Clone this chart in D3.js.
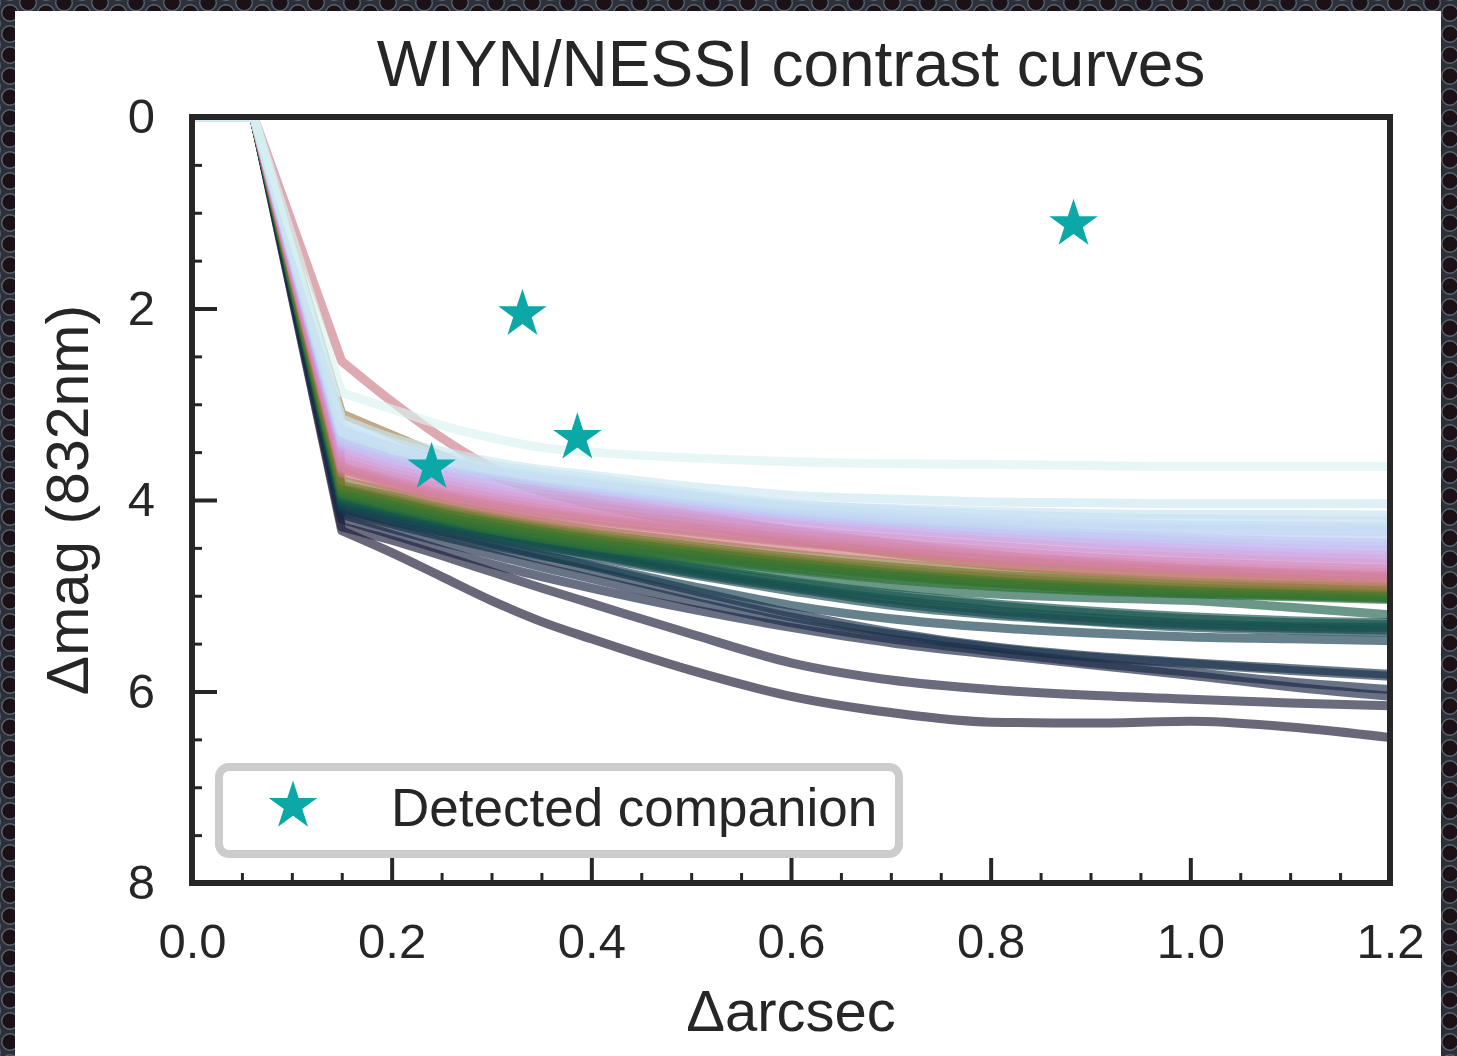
<!DOCTYPE html>
<html lang="en">
<head>
<meta charset="UTF-8">
<title>WIYN/NESSI contrast curves</title>
<script src="https://d3js.org/d3.v7.min.js"></script>
<style>
  body { margin: 0; background: #262a33; }
  svg { display: block; }
  text { font-family: "Liberation Sans", Arial, sans-serif; fill: #262626; }
</style>
</head>
<body>
<div id="chart"></div>
<script>
// separations (arcsec): inside the core the curves sit at 0 mag
const innerSep = [0.0, 0.062];
const curveSep = [0.15, 0.2, 0.25, 0.3, 0.35, 0.4, 0.5, 0.6, 0.7, 0.8, 0.9, 1.0, 1.1, 1.2];

// delta mag at each curveSep, one row per target
const curves = [
  [4.32, 4.55, 4.80, 5.05, 5.27, 5.45, 5.78, 6.05, 6.22, 6.32, 6.33, 6.31, 6.37, 6.48],
  [4.28, 4.42, 4.58, 4.75, 4.92, 5.08, 5.40, 5.70, 5.88, 5.98, 6.04, 6.08, 6.12, 6.15],
  [4.20, 4.36, 4.52, 4.67, 4.80, 4.92, 5.14, 5.33, 5.49, 5.61, 5.72, 5.83, 5.95, 6.05],
  [4.15, 4.30, 4.44, 4.57, 4.70, 4.82, 5.06, 5.28, 5.45, 5.58, 5.70, 5.80, 5.90, 5.98],
  [4.12, 4.25, 4.38, 4.50, 4.62, 4.74, 4.99, 5.22, 5.40, 5.54, 5.64, 5.71, 5.78, 5.84],
  [4.10, 4.22, 4.33, 4.45, 4.57, 4.69, 4.94, 5.18, 5.38, 5.53, 5.63, 5.70, 5.76, 5.82],
  [4.08, 4.22, 4.35, 4.47, 4.58, 4.68, 4.90, 5.10, 5.24, 5.33, 5.39, 5.43, 5.45, 5.47],
  [4.05, 4.17, 4.29, 4.40, 4.50, 4.59, 4.78, 4.95, 5.10, 5.20, 5.27, 5.33, 5.36, 5.38],
  [4.03, 4.15, 4.27, 4.38, 4.48, 4.57, 4.76, 4.92, 5.07, 5.18, 5.26, 5.31, 5.34, 5.36],
  [4.02, 4.14, 4.26, 4.37, 4.47, 4.56, 4.74, 4.90, 5.04, 5.15, 5.23, 5.29, 5.32, 5.33],
  [4.00, 4.12, 4.24, 4.35, 4.44, 4.53, 4.71, 4.87, 5.00, 5.10, 5.18, 5.24, 5.28, 5.30],
  [4.00, 4.12, 4.23, 4.34, 4.44, 4.52, 4.69, 4.85, 4.98, 5.08, 5.16, 5.22, 5.26, 5.28],
  [3.98, 4.10, 4.22, 4.32, 4.41, 4.49, 4.64, 4.78, 4.90, 4.98, 5.02, 5.05, 5.12, 5.20],
  [3.93, 4.06, 4.18, 4.29, 4.38, 4.46, 4.59, 4.71, 4.81, 4.89, 4.94, 4.98, 5.01, 5.04],
  [3.95, 4.08, 4.20, 4.31, 4.40, 4.48, 4.61, 4.73, 4.83, 4.90, 4.95, 4.98, 5.00, 5.03],
  [3.91, 4.03, 4.15, 4.26, 4.35, 4.43, 4.56, 4.68, 4.78, 4.86, 4.92, 4.96, 4.99, 5.02],
  [3.92, 4.05, 4.17, 4.27, 4.36, 4.44, 4.57, 4.69, 4.79, 4.87, 4.92, 4.96, 4.99, 5.01],
  [3.89, 4.01, 4.14, 4.24, 4.33, 4.41, 4.54, 4.66, 4.77, 4.85, 4.91, 4.95, 4.98, 5.00],
  [3.90, 4.01, 4.13, 4.23, 4.32, 4.40, 4.53, 4.65, 4.76, 4.84, 4.90, 4.94, 4.97, 4.99],
  [3.88, 3.99, 4.11, 4.21, 4.30, 4.38, 4.51, 4.63, 4.73, 4.81, 4.87, 4.92, 4.95, 4.97],
  [3.85, 3.96, 4.08, 4.18, 4.27, 4.35, 4.48, 4.60, 4.70, 4.78, 4.84, 4.89, 4.92, 4.95],
  [3.80, 3.92, 4.04, 4.14, 4.23, 4.31, 4.44, 4.56, 4.66, 4.75, 4.81, 4.86, 4.89, 4.92],
  [3.10, 3.32, 3.54, 3.74, 3.91, 4.04, 4.24, 4.41, 4.55, 4.67, 4.75, 4.81, 4.86, 4.90],
  [3.72, 3.86, 3.99, 4.10, 4.19, 4.26, 4.38, 4.49, 4.58, 4.67, 4.73, 4.78, 4.82, 4.85],
  [2.55, 2.97, 3.35, 3.66, 3.85, 3.97, 4.15, 4.32, 4.45, 4.57, 4.65, 4.72, 4.77, 4.82],
  [3.68, 3.83, 3.96, 4.06, 4.14, 4.21, 4.33, 4.44, 4.53, 4.62, 4.68, 4.73, 4.77, 4.80],
  [3.66, 3.81, 3.94, 4.04, 4.12, 4.19, 4.31, 4.43, 4.52, 4.61, 4.67, 4.72, 4.76, 4.79],
  [3.65, 3.79, 3.92, 4.01, 4.09, 4.16, 4.28, 4.40, 4.49, 4.58, 4.64, 4.69, 4.73, 4.76],
  [3.60, 3.75, 3.87, 3.97, 4.05, 4.12, 4.24, 4.36, 4.45, 4.53, 4.60, 4.65, 4.69, 4.72],
  [3.55, 3.71, 3.83, 3.93, 4.01, 4.07, 4.19, 4.31, 4.40, 4.48, 4.55, 4.60, 4.64, 4.67],
  [3.50, 3.67, 3.79, 3.89, 3.97, 4.03, 4.14, 4.26, 4.35, 4.43, 4.50, 4.55, 4.59, 4.62],
  [3.45, 3.62, 3.74, 3.84, 3.92, 3.98, 4.09, 4.21, 4.30, 4.38, 4.45, 4.51, 4.55, 4.58],
  [3.42, 3.59, 3.71, 3.81, 3.88, 3.94, 4.07, 4.18, 4.27, 4.35, 4.42, 4.47, 4.51, 4.53],
  [3.40, 3.55, 3.67, 3.76, 3.84, 3.90, 4.03, 4.15, 4.24, 4.32, 4.38, 4.43, 4.47, 4.49],
  [3.38, 3.53, 3.64, 3.73, 3.81, 3.87, 4.01, 4.13, 4.21, 4.29, 4.35, 4.40, 4.43, 4.45],
  [3.35, 3.51, 3.63, 3.73, 3.81, 3.88, 4.01, 4.14, 4.22, 4.30, 4.35, 4.38, 4.39, 4.40],
  [3.30, 3.47, 3.60, 3.70, 3.78, 3.85, 3.99, 4.11, 4.19, 4.25, 4.29, 4.31, 4.32, 4.33],
  [3.28, 3.45, 3.57, 3.68, 3.76, 3.83, 3.97, 4.09, 4.17, 4.23, 4.27, 4.29, 4.30, 4.31],
  [3.25, 3.43, 3.57, 3.67, 3.75, 3.81, 3.95, 4.07, 4.14, 4.20, 4.24, 4.26, 4.27, 4.28],
  [3.20, 3.39, 3.53, 3.63, 3.71, 3.77, 3.92, 4.04, 4.10, 4.15, 4.18, 4.20, 4.21, 4.22],
  [3.30, 3.47, 3.59, 3.68, 3.76, 3.82, 3.95, 4.05, 4.09, 4.12, 4.14, 4.15, 4.15, 4.16],
  [3.15, 3.35, 3.49, 3.60, 3.68, 3.74, 3.86, 3.95, 3.99, 4.02, 4.03, 4.04, 4.04, 4.04],
  [2.88, 3.05, 3.22, 3.35, 3.45, 3.50, 3.56, 3.60, 3.62, 3.63, 3.64, 3.65, 3.65, 3.65]
];

// detected companions
const companionSep = [0.24, 0.331, 0.386, 0.883];
const companionMag = [3.66, 2.06, 3.35, 1.12];

const xTicks = [0, 0.2, 0.4, 0.6, 0.8, 1.0, 1.2];
const yTicks = [0, 2, 4, 6, 8];

const width = 1457, height = 1056;
const plot = { left: 192, right: 1390, top: 117, bottom: 883 };
const ink = '#262626';
const starColor = '#0ca8a8';

const svg = d3.select('#chart').append('svg')
    .attr('width', width)
    .attr('height', height);

// perforated dark frame around the white figure
const defs = svg.append('defs');
const pat = defs.append('pattern')
    .attr('id', 'holes')
    .attr('patternUnits', 'userSpaceOnUse')
    .attr('width', 36)
    .attr('height', 21)
    .attr('patternTransform', 'translate(10,13)');
pat.append('rect').attr('width', 36).attr('height', 21).attr('fill', '#2b3039');
[[0, 0], [36, 0], [0, 21], [36, 21], [18, 10.5]].forEach(p => {
    pat.append('circle')
        .attr('cx', p[0]).attr('cy', p[1]).attr('r', 8.3)
        .attr('fill', '#1b1116')
        .attr('stroke', '#5a6370')
        .attr('stroke-width', 1.4);
});
svg.append('rect').attr('width', width).attr('height', height).attr('fill', 'url(#holes)');
svg.append('rect')
    .attr('x', 15).attr('y', 11)
    .attr('width', 1426).attr('height', height)
    .attr('fill', '#ffffff');

defs.append('clipPath').attr('id', 'plotclip')
    .append('rect')
    .attr('x', plot.left).attr('y', plot.top)
    .attr('width', plot.right - plot.left)
    .attr('height', plot.bottom - plot.top);

// scales
const x = d3.scaleLinear().domain([0, 1.2]).range([plot.left, plot.right]);
const y = d3.scaleLinear().domain([0, 8]).range([plot.top, plot.bottom]);

// cubehelix colour keyed to the depth reached at 1.2"
const tOfDepth = d3.scaleLinear()
    .domain([6.48, 6.15, 6.0, 5.84, 5.47, 5.35, 5.2, 5.03, 4.97, 4.92, 4.85, 4.78, 4.65, 4.5, 4.3, 4.04, 3.65])
    .range([0.10, 0.12, 0.15, 0.17, 0.20, 0.23, 0.28, 0.34, 0.38, 0.47, 0.57, 0.61, 0.68, 0.77, 0.84, 0.88, 0.92])
    .clamp(true);

const last = c => c[c.length - 1];
const order = d3.range(curves.length).sort((a, b) => d3.descending(last(curves[a]), last(curves[b])));

const lineLin = d3.line().x(d => x(d[0])).y(d => y(d[1]));
const lineSmooth = d3.line().x(d => x(d[0])).y(d => y(d[1])).curve(d3.curveMonotoneX);

function curvePath(vals) {
    const head = innerSep.map(s => [s, 0]).concat([[curveSep[0], vals[0]]]);
    const tail = curveSep.map((s, i) => [s, vals[i]]);
    return lineLin(head) + lineSmooth(tail).replace(/^M[^A-Za-z]*/, '');
}

const g = svg.append('g').attr('clip-path', 'url(#plotclip)');
g.selectAll('path.curve')
    .data(order)
    .enter()
    .append('path')
    .attr('class', 'curve')
    .attr('d', ci => curvePath(curves[ci]))
    .attr('fill', 'none')
    .attr('stroke', ci => d3.interpolateCubehelixDefault(tOfDepth(last(curves[ci]))))
    .attr('stroke-opacity', 0.65)
    .attr('stroke-width', 9)
    .attr('stroke-linejoin', 'round');

// axes: ticks point inward, only left and bottom
const xAxis = d3.axisBottom(x).tickValues(xTicks)
    .tickFormat(d3.format('.1f'))
    .tickSizeInner(-25).tickSizeOuter(0).tickPadding(40);
const xMinor = d3.axisBottom(x)
    .tickValues(d3.range(0.05, 1.2, 0.05).filter(v => Math.abs(v / 0.2 - Math.round(v / 0.2)) > 0.01))
    .tickFormat('').tickSizeInner(-10).tickSizeOuter(0);
const yAxis = d3.axisLeft(y).tickValues(yTicks)
    .tickFormat(d3.format('d'))
    .tickSizeInner(-25).tickSizeOuter(0).tickPadding(37);
const yMinor = d3.axisLeft(y)
    .tickValues(d3.range(0.5, 8, 0.5).filter(v => v % 2 !== 0))
    .tickFormat('').tickSizeInner(-10).tickSizeOuter(0);

function styleAxis(sel, w) {
    sel.select('.domain').remove();
    sel.selectAll('line').attr('stroke', ink).attr('stroke-width', w);
    sel.selectAll('text').attr('font-size', 49).attr('fill', ink)
        .style('font-family', '"Liberation Sans", Arial, sans-serif');
}

svg.append('g').attr('transform', `translate(0,${plot.bottom})`).call(xAxis).call(styleAxis, 4);
svg.append('g').attr('transform', `translate(0,${plot.bottom})`).call(xMinor).call(styleAxis, 3);
svg.append('g').attr('transform', `translate(${plot.left},0)`).call(yAxis).call(styleAxis, 4);
svg.append('g').attr('transform', `translate(${plot.left},0)`).call(yMinor).call(styleAxis, 3);

// frame
svg.append('rect')
    .attr('x', plot.left).attr('y', plot.top)
    .attr('width', plot.right - plot.left)
    .attr('height', plot.bottom - plot.top)
    .attr('fill', 'none')
    .attr('stroke', ink)
    .attr('stroke-width', 6);

// companions
const star = d3.symbol().type(d3.symbolStar).size(730);
svg.selectAll('path.comp')
    .data(companionSep)
    .enter()
    .append('path')
    .attr('class', 'comp')
    .attr('d', star)
    .attr('transform', (d, i) => `translate(${x(d)},${y(companionMag[i])})`)
    .attr('fill', starColor);

// legend
svg.append('rect')
    .attr('x', 219).attr('y', 767)
    .attr('width', 680).attr('height', 87)
    .attr('rx', 10)
    .attr('fill', '#ffffff')
    .attr('stroke', '#cccccc')
    .attr('stroke-width', 8);
svg.append('path')
    .attr('d', star)
    .attr('transform', 'translate(293,806)')
    .attr('fill', starColor);
svg.append('text')
    .attr('x', 391).attr('y', 826)
    .attr('font-size', 53)
    .text('Detected companion');

// titles
svg.append('text')
    .attr('x', (plot.left + plot.right) / 2).attr('y', 86)
    .attr('text-anchor', 'middle')
    .attr('font-size', 64)
    .text('WIYN/NESSI contrast curves');
svg.append('text')
    .attr('x', (plot.left + plot.right) / 2).attr('y', 1031)
    .attr('text-anchor', 'middle')
    .attr('font-size', 58)
    .text('Δarcsec');
svg.append('text')
    .attr('transform', 'translate(88,500) rotate(-90)')
    .attr('text-anchor', 'middle')
    .attr('font-size', 59)
    .text('Δmag (832nm)');
</script>
</body>
</html>
